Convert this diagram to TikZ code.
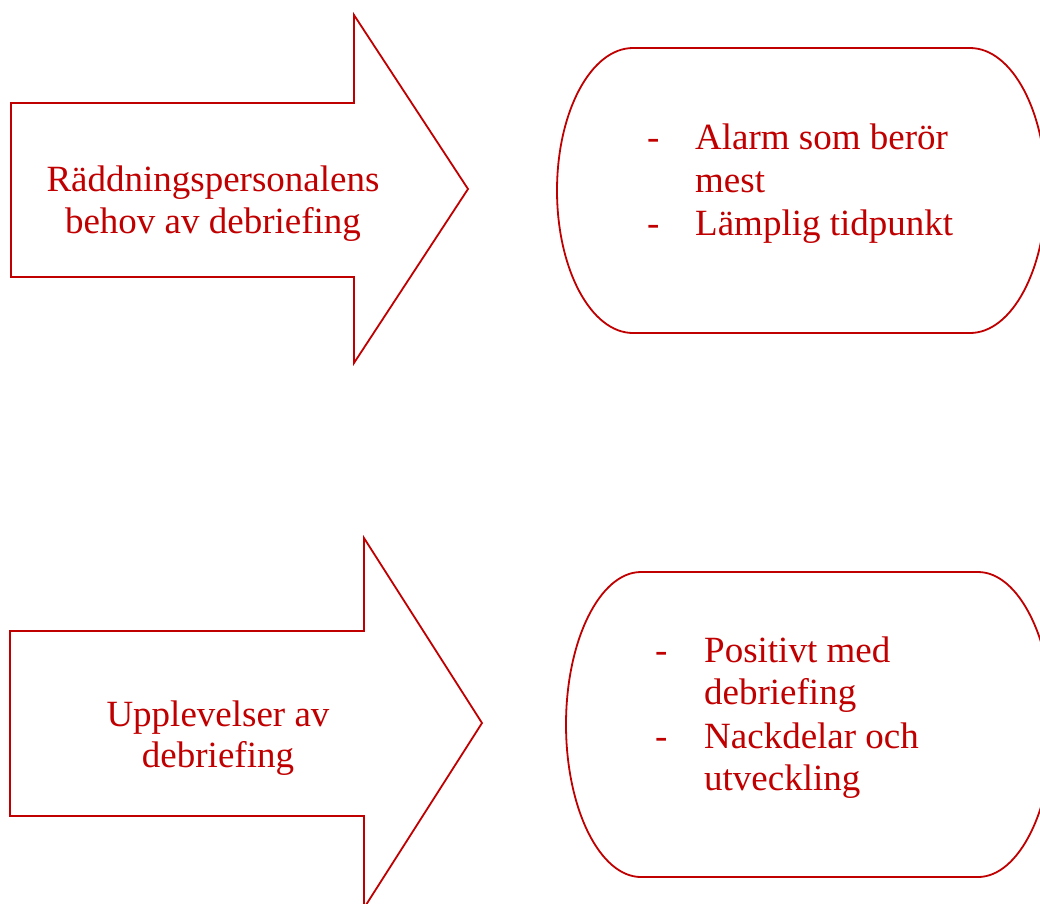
\documentclass[tikz,border=0pt]{standalone}
\usepackage{fontspec}
\setmainfont{Liberation Serif}
\definecolor{dred}{HTML}{C00000}
\begin{document}
\begin{tikzpicture}[x=1pt,y=-1pt,
  shapeline/.style={draw=dred,line width=1.8pt,line join=miter},
  txt/.style={text=dred,font=\fontsize{37}{42}\selectfont,inner sep=0pt,anchor=base},
  ltxt/.style={txt,anchor=base west}]
\useasboundingbox (0,0) rectangle (1040,903);
% top arrow
\draw[shapeline] (11,103) -- (354,103) -- (354,15) -- (468,189) -- (354,363) -- (354,277) -- (11,277) -- cycle;
% bottom arrow
\draw[shapeline] (10,631) -- (364,631) -- (364,538) -- (482,723) -- (364,908) -- (364,816) -- (10,816) -- cycle;
% top rounded box
\draw[shapeline] (633,48) -- (970,48) .. controls (1012,48) and (1046,111.8) .. (1046,190.5)
  .. controls (1046,269.2) and (1012,333) .. (970,333) -- (633,333)
  .. controls (591,333) and (557,269.2) .. (557,190.5)
  .. controls (557,111.8) and (591,48) .. (633,48) -- cycle;
% bottom rounded box
\draw[shapeline] (641,572) -- (978,572) .. controls (1019,572) and (1053,640.3) .. (1053,724.5)
  .. controls (1053,808.7) and (1019,877) .. (978,877) -- (641,877)
  .. controls (600,877) and (566,808.7) .. (566,724.5)
  .. controls (566,640.3) and (600,572) .. (641,572) -- cycle;
% texts
\node[txt] (a1) at (213,191) {Räddningspersonalens};
\node[txt] (a2) at (213,233) {behov av debriefing};
\node[txt] (b1) at (218,726) {Upplevelser av};
\node[txt] (b2) at (218,767) {debriefing};
\node[ltxt] (d1) at (647,149) {-};
\node[ltxt] (t1) at (695,149) {Alarm som berör};
\node[ltxt] (t2) at (695,192) {mest};
\node[ltxt] (d2) at (647,235) {-};
\node[ltxt] (t3) at (695,235) {Lämplig tidpunkt};
\node[ltxt] (d3) at (655,662) {-};
\node[ltxt] (u1) at (704,662) {Positivt med};
\node[ltxt] (u2) at (704,704) {debriefing};
\node[ltxt] (d4) at (655,748) {-};
\node[ltxt] (u3) at (704,748) {Nackdelar och};
\node[ltxt] (u4) at (704,790) {utveckling};
\end{tikzpicture}
\end{document}
